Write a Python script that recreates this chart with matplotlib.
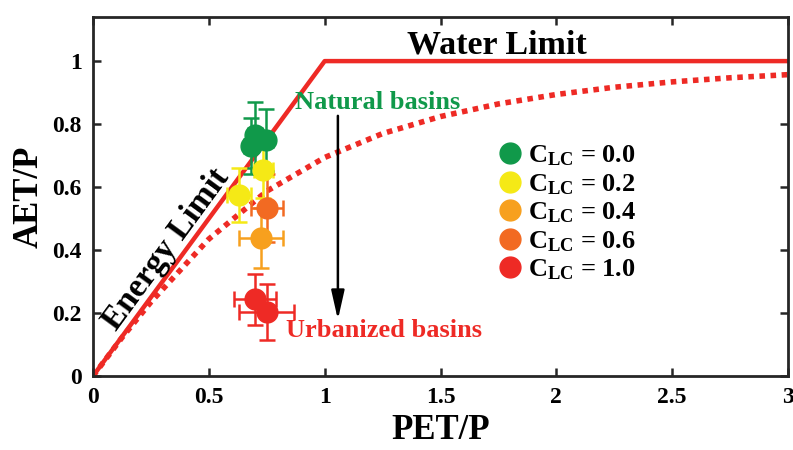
import numpy as np
import matplotlib.pyplot as plt
from matplotlib.lines import Line2D

plt.rcParams['font.family'] = ['Liberation Serif', 'DejaVu Serif']
plt.rcParams['font.weight'] = 'bold'
plt.rcParams['axes.labelweight'] = 'bold'
plt.rcParams['mathtext.fontset'] = 'custom'
plt.rcParams['mathtext.rm'] = 'Liberation Serif:bold'
plt.rcParams['mathtext.it'] = 'Liberation Serif:bold'
plt.rcParams['mathtext.bf'] = 'Liberation Serif:bold'

# Limits (energy / water)
limit_x = [0, 1, 3]
limit_y = [0, 1, 1]

# Budyko curve
curve_x = [0, 0.125, 0.25, 0.5, 0.75, 1.0, 1.25, 1.5, 1.75, 2.0, 2.25, 2.5, 2.75, 3.0]
curve_y = [0, 0.122, 0.235, 0.435, 0.587, 0.694, 0.770, 0.824, 0.864, 0.894, 0.917, 0.934, 0.947, 0.957]

# Basin groups
groups = ['0.0', '0.2', '0.4', '0.6', '1.0']
colors = ['#10994a', '#f5e916', '#f7a01e', '#f26a22', '#ee2a25']
pet = {
    '0.0': [0.68, 0.70, 0.745],
    '0.2': [0.63, 0.735],
    '0.4': [0.725],
    '0.6': [0.75],
    '1.0': [0.70, 0.75],
}
aet = {
    '0.0': [0.73, 0.765, 0.75],
    '0.2': [0.575, 0.655],
    '0.4': [0.438],
    '0.6': [0.533],
    '1.0': [0.243, 0.203],
}
pet_err = {
    '0.0': [0.03, 0.03, 0.03],
    '0.2': [0.05, 0.04],
    '0.4': [0.093],
    '0.6': [0.068],
    '1.0': [0.09, 0.118],
}
aet_err = {
    '0.0': [0.09, 0.105, 0.098],
    '0.2': [0.087, 0.09],
    '0.4': [0.095],
    '0.6': [0.108],
    '1.0': [0.08, 0.09],
}
draw_order = ['0.2', '0.4', '0.6', '0.0', '1.0']

fig = plt.figure(figsize=(7.93, 4.5), dpi=100)
ax = fig.add_axes([0.1173, 0.1644, 0.8764, 0.7978])

ax.plot(limit_x, limit_y, color='#ee2a25', lw=3.2, zorder=2, solid_capstyle='butt')
ax.plot(curve_x, curve_y, color='#ee2a25', lw=4, ls=(0, (1, 1)), zorder=2)

for g in draw_order:
    c = colors[groups.index(g)]
    ax.errorbar(pet[g], aet[g], xerr=pet_err[g], yerr=aet_err[g], fmt='o', color=c,
                ms=15, mec=c, elinewidth=1.8, capsize=5.5, capthick=1.8, zorder=3)

ax.annotate('', xy=(1.057, 0.17), xytext=(1.057, 0.835),
            arrowprops=dict(arrowstyle='-|>,head_width=0.18,head_length=0.8', color='black',
                            lw=1.8, mutation_scale=22))

ax.text(1.744, 1.05, 'Water Limit', fontsize=24.5, ha='center', va='center')
ax.text(0.315, 0.403, 'Energy Limit', fontsize=24, ha='center', va='center', rotation=53.7)
ax.text(1.23, 0.867, 'Natural basins', fontsize=19, color='#10994a', ha='center', va='center')
ax.text(1.256, 0.146, 'Urbanized basins', fontsize=19, color='#ee2a25', ha='center', va='center')

handles = [Line2D([], [], ls='none', marker='o', ms=15, color=c) for c in colors]
labels = [r'$\mathregular{C_{LC}}$ = ' + g for g in groups]
ax.legend(handles, labels, loc='upper left', bbox_to_anchor=(0.577, 0.648), frameon=False,
          fontsize=19, handletextpad=0.1, labelspacing=0.15, handlelength=1.2,
          borderaxespad=0, borderpad=0)

ax.set_xlim(0, 3)
ax.set_ylim(0, 1.14)
ax.set_xticks([0, 0.5, 1, 1.5, 2, 2.5, 3])
ax.set_xticklabels(['0', '0.5', '1', '1.5', '2', '2.5', '3'])
ax.set_yticks([0, 0.2, 0.4, 0.6, 0.8, 1])
ax.set_yticklabels(['0', '0.2', '0.4', '0.6', '0.8', '1'])
ax.tick_params(direction='in', length=6, width=1.8, labelsize=17, top=True, right=True,
               color='#262626', pad=8)
for s in ax.spines.values():
    s.set_linewidth(2)
    s.set_color('#262626')

ax.set_xlabel('PET/P', fontsize=25, fontweight='bold', labelpad=4)
ax.set_ylabel('AET/P', fontsize=25, fontweight='bold', labelpad=5)

fig.savefig('out.png', dpi=100)
